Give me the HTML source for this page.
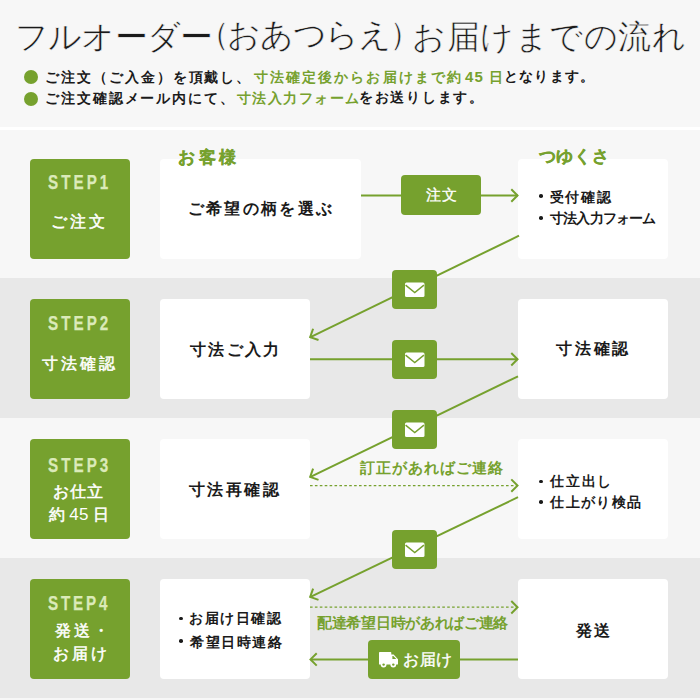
<!DOCTYPE html><html><head><meta charset="utf-8"><style>
html,body{margin:0;padding:0;width:700px;height:700px;overflow:hidden;background:#f7f7f7;}
body{position:relative;font-family:"Liberation Sans", sans-serif;}
.t{position:absolute;white-space:nowrap;line-height:1;}
.b{position:absolute;}
svg{position:absolute;left:0;top:0;}
</style></head><body>
<div class="b" style="left:0;top:0;width:700px;height:127px;background:#f7f7f7"></div>
<div class="b" style="left:0;top:127px;width:700px;height:3px;background:#ffffff"></div>
<div class="b" style="left:0;top:130px;width:700px;height:148px;background:#f7f7f7"></div>
<div class="b" style="left:0;top:278px;width:700px;height:140px;background:#e8e8e8"></div>
<div class="b" style="left:0;top:418px;width:700px;height:140px;background:#f7f7f7"></div>
<div class="b" style="left:0;top:558px;width:700px;height:140px;background:#e8e8e8"></div>
<div class="b" style="left:24px;top:70px;width:14px;height:14px;border-radius:50%;background:#76a12e"></div>
<div class="b" style="left:24px;top:91.5px;width:14px;height:14px;border-radius:50%;background:#76a12e"></div>
<div class="b" style="left:30px;top:159px;width:100px;height:100px;background:#76a12e;border-radius:4px"></div>
<div class="b" style="left:518px;top:159px;width:150px;height:100px;background:#ffffff;border-radius:4px"></div>
<div class="b" style="left:160px;top:159px;width:201px;height:100px;background:#ffffff;border-radius:4px"></div>
<div class="b" style="left:30px;top:299px;width:100px;height:100px;background:#76a12e;border-radius:4px"></div>
<div class="b" style="left:518px;top:299px;width:150px;height:100px;background:#ffffff;border-radius:4px"></div>
<div class="b" style="left:160px;top:299px;width:150px;height:100px;background:#ffffff;border-radius:4px"></div>
<div class="b" style="left:30px;top:439px;width:100px;height:100px;background:#76a12e;border-radius:4px"></div>
<div class="b" style="left:518px;top:439px;width:150px;height:100px;background:#ffffff;border-radius:4px"></div>
<div class="b" style="left:160px;top:439px;width:150px;height:100px;background:#ffffff;border-radius:4px"></div>
<div class="b" style="left:30px;top:579px;width:100px;height:100px;background:#76a12e;border-radius:4px"></div>
<div class="b" style="left:518px;top:579px;width:150px;height:100px;background:#ffffff;border-radius:4px"></div>
<div class="b" style="left:160px;top:579px;width:150px;height:100px;background:#ffffff;border-radius:4px"></div>
<svg width="700" height="700" viewBox="0 0 700 700"><line x1="361" y1="195.5" x2="518" y2="195.5" stroke="#76a12e" stroke-width="2"/><polyline points="511.28,201.72 517.5,195.5 511.28,189.28" fill="none" stroke="#76a12e" stroke-width="2" stroke-linecap="butt" stroke-linejoin="miter"/><line x1="519" y1="235.7" x2="310" y2="337.3" stroke="#76a12e" stroke-width="2"/><polyline points="313.10,328.79 310.2,337.1 318.51,340.00" fill="none" stroke="#76a12e" stroke-width="2" stroke-linecap="butt" stroke-linejoin="miter"/><line x1="310" y1="359.3" x2="518" y2="359.3" stroke="#76a12e" stroke-width="2"/><polyline points="511.28,365.52 517.5,359.3 511.28,353.08" fill="none" stroke="#76a12e" stroke-width="2" stroke-linecap="butt" stroke-linejoin="miter"/><line x1="518" y1="376.3" x2="310" y2="477.2" stroke="#76a12e" stroke-width="2"/><polyline points="313.09,468.69 310.2,477.0 318.51,479.89" fill="none" stroke="#76a12e" stroke-width="2" stroke-linecap="butt" stroke-linejoin="miter"/><line x1="310" y1="485.6" x2="518" y2="485.6" stroke="#76a12e" stroke-width="1.3" stroke-dasharray="2.6,2.3"/><polyline points="511.28,491.82 517.5,485.6 511.28,479.38" fill="none" stroke="#76a12e" stroke-width="2" stroke-linecap="butt" stroke-linejoin="miter"/><line x1="518" y1="497.2" x2="310" y2="597.1" stroke="#76a12e" stroke-width="2"/><polyline points="313.12,588.60 310.2,596.9 318.50,599.82" fill="none" stroke="#76a12e" stroke-width="2" stroke-linecap="butt" stroke-linejoin="miter"/><line x1="310" y1="607.2" x2="518" y2="607.2" stroke="#76a12e" stroke-width="1.3" stroke-dasharray="2.6,2.3"/><polyline points="511.28,613.42 517.5,607.2 511.28,600.98" fill="none" stroke="#76a12e" stroke-width="2" stroke-linecap="butt" stroke-linejoin="miter"/><line x1="518" y1="659.4" x2="311" y2="659.4" stroke="#76a12e" stroke-width="2"/><polyline points="316.72,653.18 310.5,659.4 316.72,665.62" fill="none" stroke="#76a12e" stroke-width="2" stroke-linecap="butt" stroke-linejoin="miter"/></svg>
<div class="b" style="left:401px;top:175px;width:80px;height:40px;background:#76a12e;border-radius:4px"></div>
<div class="b" style="left:392px;top:270px;width:45px;height:39px;background:#76a12e;border-radius:4px"></div>
<svg width="700" height="700" viewBox="0 0 700 700"><g transform="translate(405,282.5)"><rect x="0" y="0" width="19.5" height="14.5" rx="1.5" fill="#fff"/><polyline points="0.6,2.6 9.75,10 18.9,2.6" fill="none" stroke="#76a12e" stroke-width="1.4"/></g></svg>
<div class="b" style="left:392px;top:340px;width:45px;height:39px;background:#76a12e;border-radius:4px"></div>
<svg width="700" height="700" viewBox="0 0 700 700"><g transform="translate(405,352.5)"><rect x="0" y="0" width="19.5" height="14.5" rx="1.5" fill="#fff"/><polyline points="0.6,2.6 9.75,10 18.9,2.6" fill="none" stroke="#76a12e" stroke-width="1.4"/></g></svg>
<div class="b" style="left:392px;top:410px;width:45px;height:39px;background:#76a12e;border-radius:4px"></div>
<svg width="700" height="700" viewBox="0 0 700 700"><g transform="translate(405,422.5)"><rect x="0" y="0" width="19.5" height="14.5" rx="1.5" fill="#fff"/><polyline points="0.6,2.6 9.75,10 18.9,2.6" fill="none" stroke="#76a12e" stroke-width="1.4"/></g></svg>
<div class="b" style="left:392px;top:530px;width:45px;height:39px;background:#76a12e;border-radius:4px"></div>
<svg width="700" height="700" viewBox="0 0 700 700"><g transform="translate(405,542.5)"><rect x="0" y="0" width="19.5" height="14.5" rx="1.5" fill="#fff"/><polyline points="0.6,2.6 9.75,10 18.9,2.6" fill="none" stroke="#76a12e" stroke-width="1.4"/></g></svg>
<div class="b" style="left:368px;top:639.5px;width:92px;height:39.5px;background:#76a12e;border-radius:4px"></div>
<svg width="700" height="700" viewBox="0 0 700 700"><g transform="translate(379,652)" fill="#fff">
<path d="M0.8,0 H11.6 Q12.3,0 12.3,0.7 V2.6 H14.6 L19,7.2 V12 Q19,12.6 18.4,12.6 H0.6 Q0,12.6 0,12 V0.8 Q0,0 0.8,0 Z"/>
<path d="M13.4,3.9 H14.3 L17.3,7.1 H13.4 Z" fill="#76a12e"/>
<circle cx="4.6" cy="12.6" r="2.9" fill="#fff"/>
<circle cx="14.3" cy="12.6" r="2.9" fill="#fff"/>
<circle cx="4.6" cy="12.6" r="1.2" fill="#76a12e"/>
<circle cx="14.3" cy="12.6" r="1.2" fill="#76a12e"/>
</g></svg>
<div class="b" style="left:539.3000000000001px;top:194.29999999999998px;width:3.6px;height:3.6px;border-radius:50%;background:#1a1a1a"></div>
<div class="b" style="left:539.3000000000001px;top:216.39999999999998px;width:3.6px;height:3.6px;border-radius:50%;background:#1a1a1a"></div>
<div class="b" style="left:539.3000000000001px;top:479.5px;width:3.6px;height:3.6px;border-radius:50%;background:#1a1a1a"></div>
<div class="b" style="left:539.3000000000001px;top:500.09999999999997px;width:3.6px;height:3.6px;border-radius:50%;background:#1a1a1a"></div>
<div class="b" style="left:179.29999999999998px;top:616.9000000000001px;width:3.6px;height:3.6px;border-radius:50%;background:#1a1a1a"></div>
<div class="b" style="left:179.29999999999998px;top:639.2px;width:3.6px;height:3.6px;border-radius:50%;background:#1a1a1a"></div>
<div class="t" style="left:15.00px;top:19.50px;font-size:33.0px;font-weight:400;color:#1a1a1a;letter-spacing:-0.80px;-webkit-text-stroke:0.55px #f7f7f7;font-family:'Liberation Sans', sans-serif">フルオーダー</div>
<div class="t" style="left:197.00px;top:17.00px;font-size:33.0px;font-weight:400;color:#1a1a1a;letter-spacing:0.00px;-webkit-text-stroke:0.55px #f7f7f7;font-family:'Liberation Sans', sans-serif">（</div>
<div class="t" style="left:227.00px;top:18.00px;font-size:33.0px;font-weight:400;color:#1a1a1a;letter-spacing:-1.25px;-webkit-text-stroke:0.55px #f7f7f7;font-family:'Liberation Sans', sans-serif">おあつらえ</div>
<div class="t" style="left:389.00px;top:17.00px;font-size:33.0px;font-weight:400;color:#1a1a1a;letter-spacing:0.00px;-webkit-text-stroke:0.55px #f7f7f7;font-family:'Liberation Sans', sans-serif">）</div>
<div class="t" style="left:412.00px;top:19.50px;font-size:33.0px;font-weight:400;color:#1a1a1a;letter-spacing:0.57px;-webkit-text-stroke:0.55px #f7f7f7;font-family:'Liberation Sans', sans-serif">お届けまでの流れ</div>
<div class="t" style="left:45.00px;top:70.80px;font-size:13.5px;font-weight:700;color:#1a1a1a;letter-spacing:1.95px;font-family:'Liberation Sans', sans-serif">ご注文（ご入金）を頂戴し、</div>
<div class="t" style="left:254.00px;top:70.80px;font-size:13.5px;font-weight:700;color:#76a12e;letter-spacing:2.07px;font-family:'Liberation Sans', sans-serif">寸法確定後からお届けまで約</div>
<div class="t" style="left:465.00px;top:68.80px;font-size:13.5px;font-weight:700;color:#76a12e;letter-spacing:1.27px;font-family:'Liberation Sans', sans-serif"><span style="font-size:15px">45</span> 日</div>
<div class="t" style="left:504.00px;top:70.30px;font-size:13.5px;font-weight:700;color:#1a1a1a;letter-spacing:1.20px;font-family:'Liberation Sans', sans-serif">となります。</div>
<div class="t" style="left:45.00px;top:92.25px;font-size:13.5px;font-weight:700;color:#1a1a1a;letter-spacing:1.91px;font-family:'Liberation Sans', sans-serif">ご注文確認メール内にて、</div>
<div class="t" style="left:237.00px;top:92.25px;font-size:13.5px;font-weight:700;color:#76a12e;letter-spacing:1.43px;font-family:'Liberation Sans', sans-serif">寸法入力フォーム</div>
<div class="t" style="left:359.00px;top:91.25px;font-size:13.5px;font-weight:700;color:#1a1a1a;letter-spacing:1.71px;font-family:'Liberation Sans', sans-serif">をお送りします。</div>
<div class="t" style="left:48.30px;top:171.60px;font-size:20.0px;font-weight:700;color:#dbeab9;letter-spacing:4.00px;transform:scaleX(0.76);transform-origin:0 0;-webkit-text-stroke:0.25px #dbeab9;font-family:'Liberation Sans', sans-serif">STEP1</div>
<div class="t" style="left:51.30px;top:214.00px;font-size:16.0px;font-weight:400;color:#ffffff;letter-spacing:3.05px;-webkit-text-stroke:0.5px #ffffff;font-family:'Liberation Sans', sans-serif">ご注文</div>
<div class="t" style="left:48.30px;top:313.00px;font-size:20.0px;font-weight:700;color:#dbeab9;letter-spacing:4.00px;transform:scaleX(0.76);transform-origin:0 0;-webkit-text-stroke:0.25px #dbeab9;font-family:'Liberation Sans', sans-serif">STEP2</div>
<div class="t" style="left:42.30px;top:356.00px;font-size:16.0px;font-weight:400;color:#ffffff;letter-spacing:2.77px;-webkit-text-stroke:0.5px #ffffff;font-family:'Liberation Sans', sans-serif">寸法確認</div>
<div class="t" style="left:48.30px;top:454.60px;font-size:20.0px;font-weight:700;color:#dbeab9;letter-spacing:4.00px;transform:scaleX(0.76);transform-origin:0 0;-webkit-text-stroke:0.25px #dbeab9;font-family:'Liberation Sans', sans-serif">STEP3</div>
<div class="t" style="left:53.00px;top:483.70px;font-size:15.5px;font-weight:400;color:#ffffff;letter-spacing:0.90px;-webkit-text-stroke:0.5px #ffffff;font-family:'Liberation Sans', sans-serif">お仕立</div>
<div class="t" style="left:48.60px;top:505.50px;font-size:15.5px;font-weight:400;color:#ffffff;letter-spacing:0.18px;-webkit-text-stroke:0.5px #ffffff;font-family:'Liberation Sans', sans-serif">約 <span style="font-size:17px;-webkit-text-stroke:0">45</span> 日</div>
<div class="t" style="left:48.30px;top:593.00px;font-size:20.0px;font-weight:700;color:#dbeab9;letter-spacing:3.75px;transform:scaleX(0.76);transform-origin:0 0;-webkit-text-stroke:0.25px #dbeab9;font-family:'Liberation Sans', sans-serif">STEP4</div>
<div class="t" style="left:54.90px;top:623.20px;font-size:16.0px;font-weight:400;color:#ffffff;letter-spacing:2.95px;-webkit-text-stroke:0.5px #ffffff;font-family:'Liberation Sans', sans-serif">発送・</div>
<div class="t" style="left:53.00px;top:645.90px;font-size:16.0px;font-weight:400;color:#ffffff;letter-spacing:3.00px;-webkit-text-stroke:0.5px #ffffff;font-family:'Liberation Sans', sans-serif">お届け</div>
<div class="t" style="left:178.40px;top:148.60px;font-size:17.0px;font-weight:700;color:#76a12e;letter-spacing:3.30px;-webkit-text-stroke:0.3px #76a12e;font-family:'Liberation Sans', sans-serif">お客様</div>
<div class="t" style="left:538.60px;top:147.90px;font-size:17.0px;font-weight:700;color:#76a12e;letter-spacing:0.70px;-webkit-text-stroke:0.3px #76a12e;font-family:'Liberation Sans', sans-serif">つゆくさ</div>
<div class="t" style="left:187.60px;top:201.00px;font-size:16.0px;font-weight:700;color:#1a1a1a;letter-spacing:2.34px;font-family:'Liberation Sans', sans-serif">ご希望の柄を選ぶ</div>
<div class="t" style="left:425.60px;top:187.40px;font-size:15.0px;font-weight:400;color:#ffffff;letter-spacing:1.40px;-webkit-text-stroke:0.35px #ffffff;font-family:'Liberation Sans', sans-serif">注文</div>
<div class="t" style="left:549.70px;top:190.00px;font-size:14.0px;font-weight:700;color:#1a1a1a;letter-spacing:1.72px;font-family:'Liberation Sans', sans-serif">受付確認</div>
<div class="t" style="left:550.00px;top:211.20px;font-size:14.0px;font-weight:700;color:#1a1a1a;letter-spacing:-0.79px;font-family:'Liberation Sans', sans-serif">寸法入力フォーム</div>
<div class="t" style="left:189.90px;top:342.30px;font-size:16.0px;font-weight:700;color:#1a1a1a;letter-spacing:2.35px;font-family:'Liberation Sans', sans-serif">寸法ご入力</div>
<div class="t" style="left:556.40px;top:341.45px;font-size:16.0px;font-weight:700;color:#1a1a1a;letter-spacing:2.67px;font-family:'Liberation Sans', sans-serif">寸法確認</div>
<div class="t" style="left:189.00px;top:481.70px;font-size:16.0px;font-weight:700;color:#1a1a1a;letter-spacing:2.42px;font-family:'Liberation Sans', sans-serif">寸法再確認</div>
<div class="t" style="left:359.50px;top:460.50px;font-size:14.5px;font-weight:700;color:#76a12e;letter-spacing:1.06px;font-family:'Liberation Sans', sans-serif">訂正があればご連絡</div>
<div class="t" style="left:550.20px;top:473.85px;font-size:14.0px;font-weight:700;color:#1a1a1a;letter-spacing:1.70px;font-family:'Liberation Sans', sans-serif">仕立出し</div>
<div class="t" style="left:550.20px;top:494.70px;font-size:14.0px;font-weight:700;color:#1a1a1a;letter-spacing:1.35px;font-family:'Liberation Sans', sans-serif">仕上がり検品</div>
<div class="t" style="left:189.40px;top:610.95px;font-size:14.0px;font-weight:700;color:#1a1a1a;letter-spacing:1.52px;font-family:'Liberation Sans', sans-serif">お届け日確認</div>
<div class="t" style="left:190.40px;top:634.70px;font-size:14.0px;font-weight:700;color:#1a1a1a;letter-spacing:1.49px;font-family:'Liberation Sans', sans-serif">希望日時連絡</div>
<div class="t" style="left:317.00px;top:615.95px;font-size:14.5px;font-weight:700;color:#76a12e;letter-spacing:-0.30px;font-family:'Liberation Sans', sans-serif">配達希望日時があればご連絡</div>
<div class="t" style="left:576.00px;top:622.75px;font-size:16.0px;font-weight:700;color:#1a1a1a;letter-spacing:2.00px;font-family:'Liberation Sans', sans-serif">発送</div>
<div class="t" style="left:403.00px;top:651.50px;font-size:16.0px;font-weight:400;color:#ffffff;letter-spacing:0.50px;-webkit-text-stroke:0.4px #ffffff;font-family:'Liberation Sans', sans-serif">お届け</div>
</body></html>
